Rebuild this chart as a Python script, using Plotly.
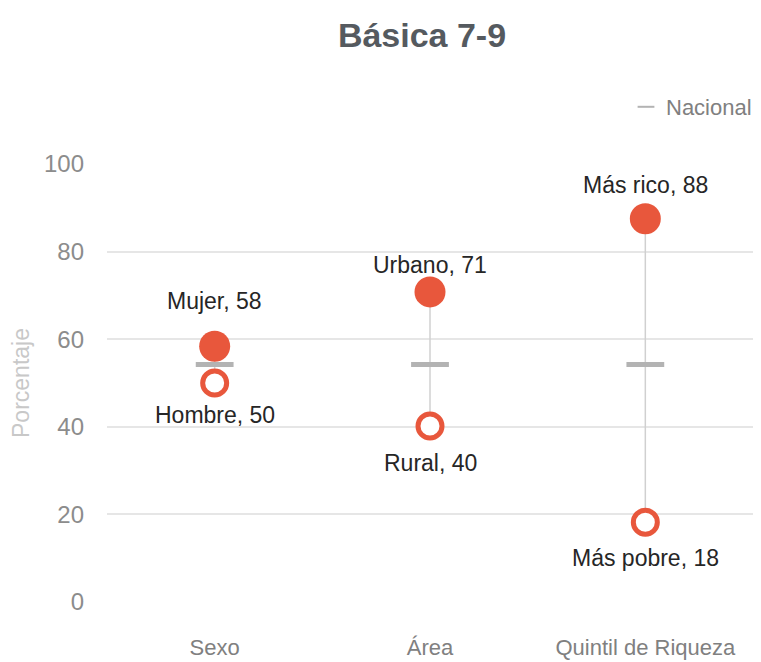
import plotly.graph_objects as go

categories = ["Sexo", "Área", "Quintil de Riqueza"]
high_labels = ["Mujer", "Urbano", "Más rico"]
high_values = [58.4, 70.8, 87.5]
low_labels = ["Hombre", "Rural", "Más pobre"]
low_values = [50.0, 40.2, 18.2]
nacional = [54.2, 54.2, 54.2]
title = "Básica 7-9"

RED = "#E8573C"
FONT = "Liberation Sans, Arial"

# page body has an 8px margin; the figure is sized to fill the rest of the window
W, H = 753, 654
L, R, T, B = 99, 8, 156, 60
PW = W - L - R
PH = H - T - B

fig = go.Figure()

# connecting vertical lines
lx, ly = [], []
for c, h, l in zip(categories, high_values, low_values):
    lx += [c, c, None]
    ly += [l, h, None]
fig.add_trace(go.Scatter(x=lx, y=ly, mode="lines", line=dict(color="#d0d0d0", width=1.5),
                         showlegend=False, hoverinfo="skip"))

fig.add_trace(go.Scatter(x=categories, y=nacional, mode="markers", name="Nacional",
                         marker=dict(symbol="line-ew", size=27, line=dict(color="#b3b3b3", width=5))))

fig.add_trace(go.Scatter(x=categories, y=high_values, mode="markers", showlegend=False,
                         marker=dict(symbol="circle", size=31, color=RED, line=dict(width=0))))
fig.add_trace(go.Scatter(x=categories, y=low_values, mode="markers", showlegend=False,
                         marker=dict(symbol="circle", size=24, color="white", line=dict(color=RED, width=5))))

high_shift = [45, 27, 34]
low_shift = [-32, -37, -36]
for c, lab, v, s in zip(categories, high_labels, high_values, high_shift):
    fig.add_annotation(x=c, y=v, text=f"{lab}, {v:.0f}", showarrow=False, yshift=s,
                       font=dict(family=FONT, size=23, color="#262626"))
for c, lab, v, s in zip(categories, low_labels, low_values, low_shift):
    fig.add_annotation(x=c, y=v, text=f"{lab}, {v:.0f}", showarrow=False, yshift=s,
                       font=dict(family=FONT, size=23, color="#262626"))

fig.update_layout(
    width=W, height=H,
    margin=dict(l=L, r=R, t=T, b=B, autoexpand=False),
    plot_bgcolor="white", paper_bgcolor="white",
    title=dict(text=f"<b>{title}</b>", x=(414 - L) / PW, xref="paper", xanchor="center",
               y=1 - 27 / H, yanchor="middle",
               font=dict(family=FONT, size=34, color="#555a5f")),
    legend=dict(x=1 + 4 / PW, xanchor="right", y=1 + (T - 99) / PH, yanchor="middle",
                font=dict(family=FONT, size=22, color="#808080"), bgcolor="rgba(0,0,0,0)",
                itemsizing="constant", itemwidth=30),
    xaxis=dict(range=[-0.5, 2.5], showgrid=False, showline=False, zeroline=False,
               tickfont=dict(family=FONT, size=22, color="#808080"), ticklabelstandoff=30,
               automargin=False),
    yaxis=dict(range=[0, 100], dtick=20, showgrid=True, gridcolor="#e6e6e6", gridwidth=1.5,
               zeroline=False, showline=False, automargin=False,
               tickfont=dict(family=FONT, size=24, color="#8c8c8c"), ticklabelstandoff=22,
               title=dict(text="Porcentaje", font=dict(family=FONT, size=23, color="#c8c8c8"), standoff=7)),
)
for tr in fig.data:
    tr.cliponaxis = False

fig.write_html("out.html")
